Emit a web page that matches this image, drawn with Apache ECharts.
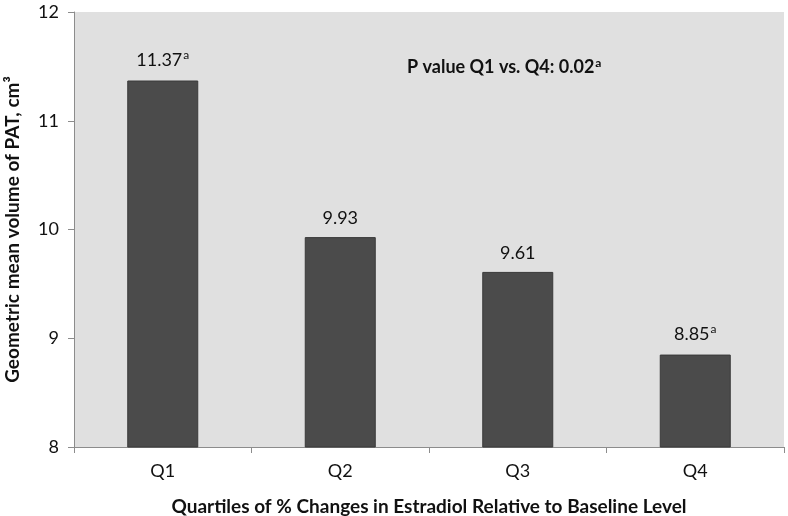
<!DOCTYPE html>
<html>
<head>
<meta charset="utf-8">
<script src="https://cdn.jsdelivr.net/npm/echarts@6/dist/echarts.min.js"></script>
<style>
  html, body { margin: 0; padding: 0; background: #fff; }
  #chart { width: 788px; height: 516px; }
</style>
</head>
<body>
<div id="chart"></div>
<script>
// data
const categories = ['Q1', 'Q2', 'Q3', 'Q4'];
const meanVolume = [11.37, 9.93, 9.61, 8.85];
const superscripts = ['a', '', '', 'a'];
const yTicks = [8, 9, 10, 11, 12];

const chart = echarts.init(document.getElementById('chart'));
const font = 'Lato, "Open Sans", sans-serif';

const option = {
  animation: false,
  textStyle: { fontFamily: font },
  grid: {
    left: 74, right: 4, top: 12, bottom: 69,
    outerBoundsMode: 'none',
    containLabel: false,
    show: true,
    backgroundColor: '#e0e0e0',
    borderWidth: 0
  },
  xAxis: {
    type: 'category',
    data: categories,
    name: 'Quartiles of % Changes in Estradiol Relative to Baseline Level',
    nameLocation: 'middle',
    nameGap: 50,
    nameTextStyle: { fontSize: 19, fontWeight: 'bold', color: '#111', fontFamily: font },
    axisLine: { lineStyle: { color: '#8c8c8c', width: 1 } },
    axisTick: { show: true, alignWithLabel: false, length: 6, lineStyle: { color: '#8c8c8c' } },
    axisLabel: { fontSize: 18, color: '#111', margin: 15, fontFamily: font }
  },
  yAxis: {
    type: 'value',
    min: yTicks[0],
    max: yTicks[yTicks.length - 1],
    interval: 1,
    name: 'Geometric mean volume of PAT, cm³',
    nameLocation: 'middle',
    nameGap: 52,
    nameTextStyle: { fontSize: 19, fontWeight: 'bold', color: '#111', fontFamily: font },
    axisLine: { show: true, lineStyle: { color: '#8c8c8c', width: 1 } },
    axisTick: { show: true, length: 6, lineStyle: { color: '#8c8c8c' } },
    axisLabel: { fontSize: 18, color: '#111', margin: 15, fontFamily: font },
    splitLine: { show: false }
  },
  series: [{
    type: 'bar',
    data: meanVolume,
    barWidth: 71,
    itemStyle: { color: '#4b4b4b', borderColor: '#3a3a3a', borderWidth: 1 },
    label: {
      show: true,
      position: 'top',
      distance: 10,
      formatter: p => superscripts[p.dataIndex] ? p.value + '{sup|' + superscripts[p.dataIndex] + '}' : String(p.value),
      fontSize: 18,
      color: '#111',
      fontFamily: font,
      rich: {
        sup: { fontSize: 12, verticalAlign: 'top', padding: [0, 0, 9, 1], color: '#111', fontFamily: font }
      }
    }
  }],
  graphic: [{
    type: 'text',
    left: 407,
    top: 57,
    style: {
      text: 'P value Q1 vs. Q4: 0.02{sup|a}',
      font: 'bold 18px ' + font,
      fill: '#111',
      rich: {
        sup: { fontSize: 12, fontWeight: 'bold', verticalAlign: 'top', padding: [0, 0, 9, 1], fill: '#111', fontFamily: font }
      }
    }
  }]
};

chart.setOption(option);
</script>
</body>
</html>
